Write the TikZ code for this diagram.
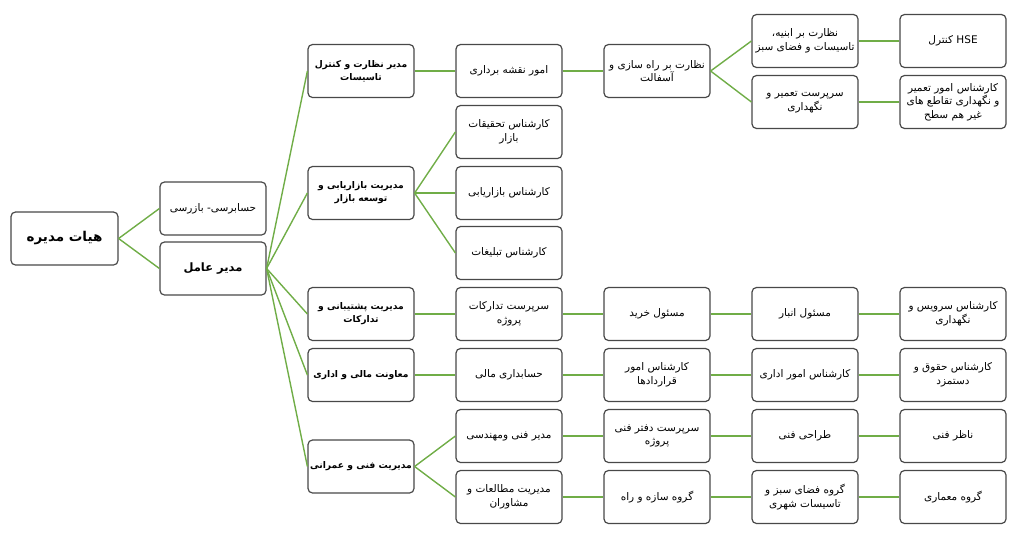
\documentclass[tikz,border=0pt]{standalone}
\usepackage{fontspec}
\setmainfont{DejaVu Sans}
\newfontfamily\fa[Script=Arabic]{DejaVu Sans}
\TeXXeTstate=1
\newcommand\fl[1]{\beginR #1\endR}
\definecolor{boxgray}{HTML}{484848}
\definecolor{lgreen}{HTML}{70AD47}
\begin{document}
\begin{tikzpicture}[x=1pt,y=-1pt,
  box/.style={draw=boxgray, line width=1.2pt, rounded corners=4.5pt, fill=white,
    minimum width=106pt, minimum height=53pt, inner sep=1pt, align=center,
    font=\fa\fontsize{10.5}{13.5}\selectfont},
  bbox/.style={box, font=\fa\bfseries\fontsize{9.2}{13}\selectfont},
  link/.style={draw=lgreen, line width=1.4pt}]
\useasboundingbox (0,0) rectangle (1024,542);
% column 1-2
\node[box, minimum width=107pt, font=\fa\bfseries\fontsize{13.5}{16}\selectfont] (root) at (64.5,238.5) {\fl{هیات مدیره}};
\node[box] (aud) at (213,208.5) {\fl{حسابرسی- بازرسی}};
\node[box, font=\fa\bfseries\fontsize{11.5}{14}\selectfont] (ceo) at (213,268.5) {\fl{مدیر عامل}};
% column 3
\node[bbox] (m1) at (361,71) {\fl{مدیر نظارت و کنترل}\\\fl{تاسیسات}};
\node[bbox] (m2) at (361,193) {\fl{مدیریت بازاریابی و}\\\fl{توسعه بازار}};
\node[bbox] (m3) at (361,314) {\fl{مدیریت پشتیبانی و}\\\fl{تدارکات}};
\node[bbox] (m4) at (361,375) {\fl{معاونت مالی و اداری}};
\node[bbox] (m5) at (361,466.5) {\fl{مدیریت فنی و عمرانی}};
% column 4
\node[box] (a1) at (509,71) {\fl{امور نقشه برداری}};
\node[box] (a2) at (509,132) {\fl{کارشناس تحقیقات}\\\fl{بازار}};
\node[box] (a3) at (509,193) {\fl{کارشناس بازاریابی}};
\node[box] (a4) at (509,253) {\fl{کارشناس تبلیغات}};
\node[box] (a5) at (509,314) {\fl{سرپرست تدارکات}\\\fl{پروژه}};
\node[box] (a6) at (509,375) {\fl{حسابداری مالی}};
\node[box] (a7) at (509,436) {\fl{مدیر فنی ومهندسی}};
\node[box] (a8) at (509,497) {\fl{مدیریت مطالعات و}\\\fl{مشاوران}};
% column 5
\node[box] (b1) at (657,71) {\fl{نظارت بر راه سازی و}\\\fl{آسفالت}};
\node[box] (b5) at (657,314) {\fl{مسئول خرید}};
\node[box] (b6) at (657,375) {\fl{کارشناس امور}\\\fl{قراردادها}};
\node[box] (b7) at (657,436) {\fl{سرپرست دفتر فنی}\\\fl{پروژه}};
\node[box] (b8) at (657,497) {\fl{گروه سازه و راه}};
% column 6
\node[box] (d1) at (805,41) {\fl{نظارت بر ابنیه،}\\\fl{تاسیسات و فضای سبز}};
\node[box] (d2) at (805,102) {\fl{سرپرست تعمیر و}\\\fl{نگهداری}};
\node[box] (d5) at (805,314) {\fl{مسئول انبار}};
\node[box] (d6) at (805,375) {\fl{کارشناس امور اداری}};
\node[box] (d7) at (805,436) {\fl{طراحی فنی}};
\node[box] (d8) at (805,497) {\fl{گروه فضای سبز و}\\\fl{تاسیسات شهری}};
% column 7
\node[box] (e1) at (953,41) {\fl{HSE کنترل}};
\node[box] (e2) at (953,102) {\fl{کارشناس امور تعمیر}\\\fl{و نگهداری تقاطع های}\\\fl{غیر هم سطح}};
\node[box] (e5) at (953,314) {\fl{کارشناس سرویس و}\\\fl{نگهداری}};
\node[box] (e6) at (953,375) {\fl{کارشناس حقوق و}\\\fl{دستمزد}};
\node[box] (e7) at (953,436) {\fl{ناظر فنی}};
\node[box] (e8) at (953,497) {\fl{گروه معماری}};
% connectors
\foreach \p/\c in {root/aud, root/ceo, ceo/m1, ceo/m2, ceo/m3, ceo/m4, ceo/m5,
  m1/a1, m2/a2, m2/a3, m2/a4, m3/a5, m4/a6, m5/a7, m5/a8,
  a1/b1, a5/b5, a6/b6, a7/b7, a8/b8,
  b1/d1, b1/d2, b5/d5, b6/d6, b7/d7, b8/d8,
  d1/e1, d2/e2, d5/e5, d6/e6, d7/e7, d8/e8}
  \draw[link] (\p.east) -- (\c.west);
\end{tikzpicture}
\end{document}
